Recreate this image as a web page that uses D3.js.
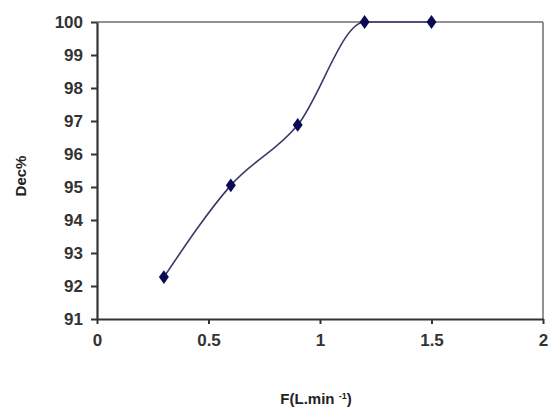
<!DOCTYPE html>
<html><head><meta charset="utf-8">
<script src="https://cdn.jsdelivr.net/npm/d3@7"></script>
<style>body{margin:0;background:#fff}svg{display:block}</style>
</head><body>
<svg id="c" width="552" height="411"></svg>
<script>
const flowRates = [0.3, 0.6, 0.9, 1.2, 1.5];
const decPercent = [92.27, 95.05, 96.88, 100, 100];
const xTicks = [0, 0.5, 1, 1.5, 2];
const yTicks = [91, 92, 93, 94, 95, 96, 97, 98, 99, 100];

const svg = d3.select('#c');
const L = 97, R = 543, T = 22, B = 319;
const x = d3.scaleLinear().domain([0, 2]).range([L, R]);
const y = d3.scaleLinear().domain([91, 100]).range([B, T]);
const font = '"Liberation Sans", Arial, sans-serif';

svg.append('line').attr('x1', L).attr('x2', R).attr('y1', T).attr('y2', T).attr('stroke', '#6e6e6e').attr('stroke-width', 1.5);
svg.append('line').attr('x1', R).attr('x2', R).attr('y1', T).attr('y2', B).attr('stroke', '#6e6e6e').attr('stroke-width', 1.5);

const xAxis = svg.append('g').attr('transform', `translate(0,${B})`)
  .call(d3.axisBottom(x).tickValues(xTicks).tickSize(5).tickPadding(10).tickSizeOuter(0).tickFormat(d3.format('')));
const yAxis = svg.append('g').attr('transform', `translate(${L},0)`)
  .call(d3.axisLeft(y).tickValues(yTicks).tickSize(6).tickPadding(8).tickSizeOuter(0));
[xAxis, yAxis].forEach(g => {
  g.select('.domain').attr('stroke', '#333').attr('stroke-width', 2.2);
  g.selectAll('.tick line').attr('stroke', '#333').attr('stroke-width', 2);
  g.selectAll('.tick text').attr('fill', '#333').style('font-family', font).style('font-weight', 'bold').style('font-size', '17px');
});

const pts = flowRates.map((f, i) => [x(f), y(decPercent[i])]);
svg.append('path').attr('d', d3.line().curve(d3.curveMonotoneX)(pts))
  .attr('fill', 'none').attr('stroke', '#3a3a6a').attr('stroke-width', 1.6);

const sym = d3.symbol().type(d3.symbolDiamond).size(55);
svg.selectAll('.m').data(pts).enter().append('path')
  .attr('d', sym).attr('transform', d => `translate(${d[0]},${d[1]}) scale(1.25,1)`).attr('fill', '#0a0a55');

svg.append('text').attr('transform', 'translate(26,176) rotate(-90)').attr('text-anchor', 'middle')
  .style('font-family', font).style('font-weight', 'bold').style('font-size', '15px').attr('fill', '#222').text('Dec%');

const t = svg.append('text').attr('x', 316).attr('y', 404).attr('text-anchor', 'middle')
  .style('font-family', font).style('font-weight', 'bold').style('font-size', '15px').attr('fill', '#222');
t.append('tspan').text('F(L.min ');
t.append('tspan').attr('dy', -5).style('font-size', '9px').text('-1');
t.append('tspan').attr('dy', 5).text(')');
</script>
</body></html>
